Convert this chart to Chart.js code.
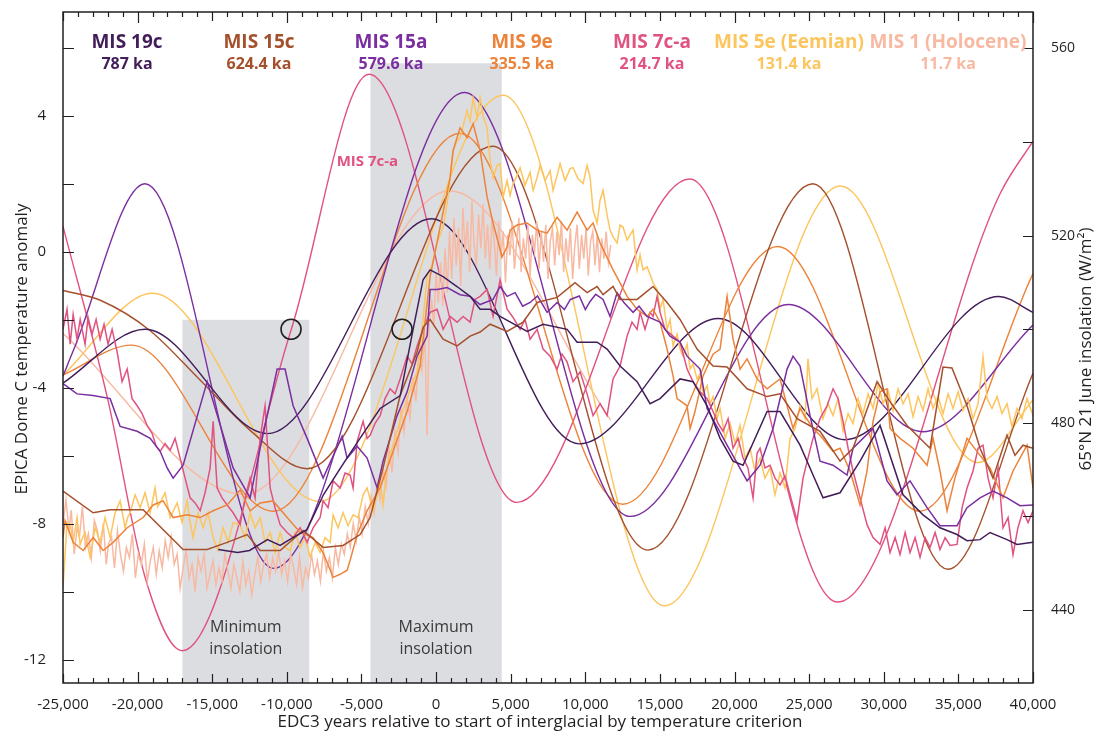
<!DOCTYPE html>
<html>
<head>
<meta charset="utf-8">
<title>Interglacial onsets vs insolation</title>
<script src="https://cdn.jsdelivr.net/npm/chart.js@4.4.1/dist/chart.umd.min.js"></script>
<style>
  html, body { margin: 0; padding: 0; background: #fff; }
  #wrap { width: 1097px; height: 738px; }
</style>
</head>
<body>
<div id="wrap"><canvas id="chart" width="1097" height="738"></canvas></div>
<script>
/* EPICA Dome C temperature vs 65N June insolation, seven interglacials
   aligned on the start of each interglacial */

// ── Axis ticks ─────────────────────────────────────────────────────────────
const xTicks     = [-25000, -20000, -15000, -10000, -5000, 0, 5000, 10000,
                    15000, 20000, 25000, 30000, 35000, 40000];
const tempTicks  = [-12, -8, -4, 0, 4];
const insolTicks = [440, 480, 520, 560];

// ── Interglacial names, ages, colours ─────────────────────────────────────
const misNames  = ['MIS 19c', 'MIS 15c', 'MIS 15a', 'MIS 9e', 'MIS 7c-a',
                   'MIS 5e (Eemian)', 'MIS 1 (Holocene)'];
const misAges   = ['787 ka', '624.4 ka', '579.6 ka', '335.5 ka', '214.7 ka',
                   '131.4 ka', '11.7 ka'];
const misColors = ['#421d5a', '#a5502c', '#7a2e9f', '#ec833a', '#e0527f',
                   '#fcc55e', '#f8b9a3'];

// ── Shaded insolation windows: [from, to, top (temperature units)] ───────
const bandSpans  = [[-17000, -8500, -2.0], [-4400, 4400, 5.55]];
const bandLabels = [['Minimum', 'insolation'], ['Maximum', 'insolation']];
const circleMarks = [[-9720, 500], [-2280, 500]];
const inlineLabel = ['MIS 7c-a', -4600, 2.65];

// ── 65N 21 June insolation, W/m2  [years, value] ──────────────────────────
const insol19c = [[-25000,488.5],[-19500,500],[-11300,477.7],[-300,523.6],[9600,475.5],
  [18900,502.3],[27400,476.4],[37700,507],[40000,503.6]];
const insol15c = [[-25000,508.3],[-22500,506.2],[-19200,499.8],[-15800,489.1],[-12500,478.5],
  [-8650,470.2],[3800,539.1],[14200,452.8],[25250,531.1],[34300,448.7],[40000,490.6]];
const insol15a = [[-25000,490],[-24300,495.5],[-19500,531.1],[-10900,448.9],[1900,550.6],
  [13000,460],[23600,505.3],[32600,478.1],[40000,500.9]];
const insol9e  = [[-25000,490.2],[-20400,496.6],[-10900,461.1],[1600,541.9],[12500,462.6],
  [22900,517.7],[32400,461.1],[40000,511.9]];
const insol7ca = [[-25000,522],[-22000,485],[-19500,447],[-17000,431.3],[-9700,500],
  [-4500,554.5],[5400,463],[17000,532.1],[26900,441.7],[37800,529],[40000,540.2]];
const insol5e  = [[-25000,490.2],[-19000,507.7],[-7800,463.2],[4500,550],[15300,440.9],
  [27100,530.6],[36300,471.5],[40000,484.9]];
const insol1   = [[-25000,499.1],[-12800,464.7],[900,529.6],[11700,480.6]];

// ── EPICA Dome C temperature anomaly  [years, value] ─────────────────────
const temp19c = [[-14600,-8.76],[-13300,-8.85],[-12500,-8.79],[-11300,-8.47],[-10450,-8.64],
  [-9600,-8.41],[-8650,-8.18],[-7550,-7.15],[-6400,-6.36],[-5100,-5.49],[-3750,-4.61],
  [-2400,-4.23],[-1540,-2.28],[-870,-0.82],[-400,-0.53],[470,-0.73],[1400,-1.02],[2280,-1.31],
  [2950,-1.69],[3620,-1.69],[4290,-1.90],[6100,-2.34],[7170,-2.13],[8780,-2.28],[9450,-2.66],
  [10790,-2.66],[11460,-2.86],[12330,-3.36],[13470,-3.82],[14340,-4.47],[15010,-4.32],
  [16350,-3.74],[17220,-3.82],[18160,-4.53],[19030,-5.49],[19900,-6.16],[20570,-6.28],
  [22180,-4.70],[23050,-4.70],[24390,-5.69],[25260,-6.57],[25930,-7.24],[27070,-7.09],
  [28410,-6.16],[29750,-5.11],[31290,-7.15],[32630,-7.74],[33770,-8.12],[34910,-8.32],
  [35580,-8.50],[36450,-8.47],[37120,-8.26],[38260,-8.47],[38930,-8.61],[40000,-8.55]];

const temp15c = [[-25000,-7.04],[-22980,-7.68],[-21840,-7.59],[-19630,-7.59],[-16950,-8.76],
  [-15340,-8.76],[-14000,-8.55],[-12660,-8.32],[-11790,-8.79],[-10450,-8.79],[-8910,-8.20],
  [-7570,-8.70],[-6230,-8.64],[-5090,-8.32],[-4420,-7.82],[-3550,-6.36],[-2410,-4.23],
  [-1270,-2.95],[-870,-2.22],[-400,-1.99],[470,-2.57],[1410,-2.77],[2280,-2.48],[2950,-2.36],
  [3620,-2.13],[4760,-2.34],[5830,-2.07],[6770,-1.49],[8110,-1.34],[9310,-0.91],[10120,-1.20],
  [10790,-1.02],[11190,-1.26],[11860,-1.02],[12330,-1.40],[13470,-1.40],[14540,-1.02],
  [15480,-1.49],[16350,-1.99],[17490,-2.86],[18560,-3.36],[19500,-3.39],[20840,-4.03],
  [22180,-4.26],[23050,-4.18],[24190,-4.91],[25730,-5.28],[27070,-6.16],[27940,-5.78],
  [29550,-3.82],[30420,-4.41],[31560,-5.11],[33100,-5.78],[33970,-3.39],[34570,-3.42],
  [35580,-4.53],[36450,-5.78],[37320,-6.66],[38260,-5.40],[38790,-5.99],[39330,-5.69],
  [40000,-5.78]];

const temp15a = [[-25000,-3.88],[-24060,-4.18],[-22980,-4.23],[-21840,-4.32],[-21170,-5.14],
  [-20030,-5.28],[-19160,-5.49],[-18490,-5.87],[-18020,-6.36],[-17620,-6.66],[-16950,-6.28],
  [-15340,-3.82],[-13600,-6.36],[-12460,-7.24],[-11790,-5.78],[-10650,-3.45],[-10120,-3.45],
  [-9580,-4.53],[-8640,-5.49],[-7570,-6.66],[-6300,-5.43],[-5960,-6.07],[-5290,-5.72],
  [-4620,-6.07],[-3950,-6.95],[-3550,-6.16],[-2610,-4.82],[-1940,-4.12],[-1270,-3.07],
  [-600,-2.48],[-400,-1.11],[70,-1.11],[740,-1.05],[1610,-1.26],[2280,-1.31],[2950,-1.55],
  [3820,-1.40],[4290,-1.02],[4760,-1.31],[5300,-1.20],[5800,-1.60],[6300,-1.49],[6800,-1.30],
  [7440,-1.78],[8110,-1.49],[8600,-1.70],[9000,-1.40],[9600,-1.30],[10000,-1.70],
  [10320,-1.46],[10700,-1.25],[11190,-1.40],[11660,-1.90],[12130,-1.20],[12600,-1.50],
  [13200,-1.78],[13600,-1.60],[14140,-1.90],[15010,-2.07],[15680,-2.48],[16350,-2.66],
  [16820,-3.07],[17690,-3.45],[18160,-4.61],[19500,-5.69],[20840,-6.74],[21710,-6.28],
  [22580,-5.20],[23520,-3.45],[23920,-3.07],[24390,-3.36],[25060,-4.82],[25730,-6.16],
  [26600,-6.28],[27540,-6.57],[27940,-5.78],[29280,-5.20],[30220,-6.74],[30890,-7.15],
  [31760,-6.74],[32900,-7.53],[33770,-8.06],[34910,-8.06],[35580,-7.53],[36450,-7.24],
  [37320,-7.04],[38260,-7.24],[39130,-7.47],[40000,-7.45]];

const temp9e = [[-25000,-8.41],[-24860,-7.91],[-24320,-8.55],[-23650,-8.79],[-22980,-8.41],
  [-22310,-8.79],[-21640,-8.55],[-20700,-8.12],[-19630,-7.82],[-18960,-7.45],[-18290,-7.33],
  [-17620,-7.82],[-16680,-7.74],[-15810,-7.82],[-14940,-7.62],[-14000,-7.45],[-13130,-7.01],
  [-12460,-7.62],[-11790,-7.39],[-10920,-7.33],[-9980,-7.82],[-9110,-8.26],[-8240,-8.41],
  [-7570,-8.85],[-6900,-9.58],[-6430,-9.49],[-5960,-9.37],[-5760,-9.08],[-5290,-8.32],
  [-4620,-7.62],[-3750,-6.95],[-2880,-5.87],[-1940,-4.70],[-1070,-3.36],[-400,-0.73],
  [270,0.73],[940,2.19],[1140,2.98],[1610,3.65],[2080,3.36],[2480,3.77],[2950,2.98],
  [3420,1.61],[3820,0.85],[4420,-0.15],[4760,0.15],[4960,0.64],[5430,0.79],[6100,0.85],
  [6770,0.64],[7440,0.55],[8110,1.02],[8780,0.64],[9450,1.17],[10120,0.64],[10520,0.85],
  [10990,0.26],[11860,-0.53],[12330,-0.91],[12800,-1.31],[13470,-1.69],[14140,-1.90],
  [14540,-1.69],[15010,-2.07],[15480,-2.86],[15880,-3.65],[16150,-4.32],[16820,-4.53],
  [17020,-5.20],[17350,-4.70],[17890,-3.65],[18560,-3.01],[19030,-2.86],[19500,-1.31],
  [19900,-2.57],[20370,-3.45],[20840,-3.15],[21510,-3.74],[22180,-4.03],[23050,-3.74],
  [23920,-5.20],[24390,-4.61],[25260,-5.20],[25730,-5.40],[26600,-5.87],[27070,-5.78],
  [27740,-6.45],[28410,-7.45],[28880,-6.45],[29280,-4.99],[29750,-4.12],[30220,-4.03],
  [30420,-5.20],[31090,-5.49],[31960,-5.78],[32900,-6.28],[33300,-5.49],[33770,-6.45],
  [34240,-7.62],[34770,-6.66],[35580,-5.49],[36450,-5.99],[37120,-6.36],[37990,-7.24],
  [38660,-6.45],[39600,-5.69],[40000,-6.95]];

const temp7ca = [[-25000,-2.28],[-24730,-1.69],[-24520,-2.72],[-24320,-1.84],[-24060,-2.57],
  [-23850,-1.99],[-23520,-2.72],[-23320,-1.93],[-23050,-2.42],[-22780,-1.99],[-22510,-2.57],
  [-22250,-2.13],[-21980,-2.72],[-21710,-2.28],[-21370,-2.95],[-21040,-3.82],[-20700,-3.45],
  [-20370,-4.32],[-20030,-4.53],[-19700,-4.76],[-19360,-5.11],[-19030,-5.34],[-18760,-5.72],
  [-18490,-5.87],[-18160,-5.64],[-17820,-5.84],[-17490,-5.49],[-17150,-6.07],[-16820,-6.66],
  [-16480,-7.24],[-16150,-7.39],[-15810,-7.62],[-15480,-7.09],[-15140,-6.36],[-14940,-4.99],
  [-14670,-6.95],[-14340,-7.24],[-14000,-7.45],[-13600,-7.68],[-13130,-8.03],[-12800,-7.24],
  [-12460,-6.66],[-12130,-7.24],[-11790,-5.49],[-11460,-4.53],[-11120,-6.95],[-10790,-7.53],
  [-10450,-8.03],[-9980,-8.26],[-9580,-8.41],[-9110,-8.12],[-8640,-8.55],[-8240,-8.12],
  [-7770,-7.82],[-7570,-7.33],[-7240,-7.53],[-6900,-6.74],[-6430,-6.95],[-6100,-6.51],
  [-5760,-6.57],[-5560,-6.95],[-5290,-5.58],[-4890,-4.99],[-4620,-5.49],[-4420,-5.40],
  [-4090,-5.05],[-3750,-4.82],[-3420,-4.32],[-3080,-4.03],[-2750,-4.18],[-2410,-3.74],
  [-1940,-3.07],[-1610,-3.30],[-1270,-2.77],[-870,-2.28],[-400,-1.78],[70,-1.69],[470,-2.28],
  [940,-1.90],[1410,-2.07],[1810,-1.90],[2280,-2.07],[2610,-1.40],[2950,-1.31],[3420,-1.11],
  [3820,-1.90],[4290,-0.82],[4760,-1.69],[5160,-1.93],[5630,-2.28],[5960,-1.99],[6300,-2.57],
  [6770,-2.28],[7170,-2.86],[7640,-3.07],[8110,-3.45],[8440,-3.01],[8780,-3.24],[9180,-3.82],
  [9650,-3.53],[10120,-4.18],[10520,-4.82],[10990,-4.47],[11460,-4.82],[11860,-3.74],
  [12330,-3.36],[12800,-2.48],[13130,-2.07],[13470,-2.28],[13670,-1.78],[14000,-2.28],
  [14340,-1.78],[14540,-1.90],[14810,-1.31],[15010,-1.78],[15340,-2.28],[15880,-2.48],
  [16350,-2.66],[16820,-3.45],[17220,-3.82],[17690,-4.12],[18160,-4.32],[18560,-4.70],
  [18900,-5.05],[19230,-5.28],[19570,-4.91],[19900,-5.78],[20240,-5.49],[20570,-6.07],
  [20900,-6.36],[21240,-7.24],[21510,-5.93],[21710,-5.78],[22040,-6.36],[22380,-6.28],
  [22710,-6.66],[23050,-6.86],[23380,-6.60],[23720,-7.15],[24190,-7.91],[24590,-6.66],
  [24920,-6.07],[25260,-5.49],[25730,-4.91],[26200,-4.53],[26600,-4.03],[26940,-4.32],
  [27270,-4.99],[27610,-5.78],[27940,-6.45],[28410,-7.24],[28880,-8.03],[29280,-8.41],
  [29750,-8.61],[30090,-8.12],[30420,-8.85],[30760,-8.41],[31090,-8.91],[31430,-8.26],
  [31760,-8.85],[32100,-8.41],[32430,-8.99],[32770,-8.41],[33100,-8.70],[33440,-8.26],
  [33770,-8.76],[34110,-8.41],[34440,-8.64],[34910,-8.61],[35250,-7.53],[35580,-6.95],
  [35980,-6.45],[36320,-5.78],[36650,-5.69],[36990,-6.66],[37320,-7.24],[37660,-6.36],
  [37990,-8.12],[38330,-7.82],[38660,-8.91],[38990,-8.12],[39330,-7.62],[39670,-7.97],
  [40000,-7.62]];

const temp5e = [[-25000,-9.87],[-24870,-8.99],[-24730,-7.97],[-24520,-8.03],[-24320,-8.55],
  [-24060,-7.82],[-23850,-8.61],[-23680,-8.40],[-23520,-8.26],[-23180,-8.99],[-22850,-8.12],
  [-22700,-8.30],[-22510,-8.55],[-22180,-7.82],[-21840,-8.41],[-21510,-7.68],[-21170,-7.33],
  [-20840,-8.12],[-20650,-7.80],[-20500,-7.68],[-20170,-7.15],[-19830,-7.53],[-19500,-7.09],
  [-19160,-7.68],[-18830,-6.95],[-18650,-7.50],[-18490,-7.39],[-18160,-7.09],[-17820,-7.82],
  [-17350,-7.39],[-17020,-7.97],[-16680,-7.33],[-16500,-7.90],[-16280,-8.41],[-15950,-7.68],
  [-15610,-8.12],[-15280,-7.68],[-14940,-8.41],[-14610,-8.79],[-14270,-8.12],[-13940,-8.55],
  [-13600,-7.97],[-13130,-8.03],[-12800,-8.41],[-12460,-7.68],[-12130,-8.12],[-11790,-7.82],
  [-11460,-8.55],[-11120,-8.26],[-10790,-8.85],[-10450,-8.26],[-10120,-8.70],[-9780,-8.79],
  [-9450,-8.26],[-9110,-8.70],[-8780,-8.41],[-8440,-8.99],[-8110,-8.55],[-7770,-8.85],
  [-7440,-8.41],[-7100,-8.55],[-6900,-7.74],[-6570,-8.12],[-6230,-7.68],[-5900,-8.06],
  [-5560,-7.74],[-5230,-7.82],[-4890,-7.15],[-4620,-6.95],[-4220,-7.62],[-3950,-7.15],
  [-3750,-6.66],[-3550,-7.45],[-3280,-6.28],[-2950,-5.78],[-2610,-5.28],[-2280,-4.76],
  [-1940,-4.32],[-1610,-3.88],[-1270,-3.53],[-940,-2.28],[-600,-0.73],[-270,-0.38],[70,0.26],
  [470,0.73],[740,1.43],[940,2.10],[1140,2.98],[1410,3.27],[1610,3.36],[1810,3.71],[2080,4.15],
  [2280,3.85],[2480,4.53],[2750,3.94],[2950,4.53],[3150,4.00],[3420,3.65],[3620,2.69],
  [3820,2.19],[4090,2.54],[4290,2.60],[4490,1.61],[4760,2.10],[4960,1.66],[5160,2.01],
  [5430,2.25],[5630,2.48],[5960,1.96],[6300,2.34],[6500,1.81],[6770,2.19],[6970,2.54],
  [7300,2.10],[7640,2.39],[7840,1.81],[8110,2.25],[8310,2.60],[8640,2.10],[8980,2.45],
  [9180,2.48],[9510,2.16],[9850,2.01],[10120,2.54],[10320,2.19],[10520,1.23],[10790,0.85],
  [10990,1.52],[11190,1.81],[11460,1.08],[11660,0.64],[11860,0.44],[12130,0.26],[12330,0.79],
  [12530,0.73],[12800,0.35],[13000,0.50],[13200,0.64],[13470,-0.53],[13670,-0.09],
  [13870,-0.53],[14140,-0.44],[14340,-0.67],[14540,-0.91],[14810,-1.11],[15010,-1.69],
  [15210,-1.40],[15480,-2.28],[15680,-1.99],[15880,-2.77],[16150,-2.42],[16350,-2.86],
  [16550,-3.07],[16820,-2.72],[17020,-3.45],[17220,-3.30],[17490,-3.74],[17690,-3.59],
  [17890,-4.18],[18160,-3.94],[18360,-4.47],[18560,-4.26],[18830,-4.91],[19030,-4.61],
  [19370,-5.49],[19700,-5.05],[20040,-5.64],[20370,-5.11],[20700,-6.07],[21040,-5.78],
  [21370,-6.45],[21710,-6.07],[22040,-6.66],[22380,-6.36],[22710,-7.15],[23050,-6.51],
  [23380,-6.95],[23720,-5.49],[24060,-5.20],[24390,-4.53],[24730,-4.91],[24920,-3.15],
  [25190,-4.32],[25530,-4.03],[25930,-4.91],[26260,-4.47],[26600,-4.82],[26940,-4.32],
  [27270,-5.28],[27610,-4.76],[27940,-5.05],[28280,-4.32],[28610,-4.76],[28950,-4.18],
  [29280,-4.61],[29620,-3.88],[29950,-4.47],[30290,-4.09],[30620,-4.67],[30960,-4.03],
  [31290,-4.47],[31630,-4.18],[31960,-4.85],[32300,-4.26],[32630,-4.67],[32970,-4.03],
  [33300,-4.61],[33640,-4.26],[33970,-4.76],[34310,-4.18],[34640,-4.61],[34980,-4.12],
  [35310,-4.67],[35650,-4.32],[35980,-4.91],[36320,-4.47],[36650,-3.09],[36920,-4.32],
  [37250,-4.61],[37590,-4.26],[37920,-4.76],[38260,-4.47],[38590,-5.14],[38930,-4.61],
  [39260,-4.91],[39600,-4.32],[40000,-4.82]];

const temp1 = [[-25000,-8.0],[-24800,-7.3],[-24600,-8.2],[-24450,-7.6],[-24250,-8.9],
  [-24050,-8.1],[-23900,-8.4],[-23700,-7.5],[-23500,-8.7],[-23300,-8.3],[-23100,-9.0],
  [-22900,-7.9],[-22700,-8.2],[-22500,-8.8],[-22300,-8.0],[-22100,-9.2],[-21950,-8.6],
  [-21750,-8.4],[-21550,-9.3],[-21350,-8.2],[-21150,-8.9],[-20950,-9.4],[-20750,-8.7],
  [-20550,-9.0],[-20350,-8.3],[-20150,-9.6],[-19950,-8.9],[-19750,-9.2],[-19550,-8.6],
  [-19350,-9.7],[-19150,-9.1],[-18950,-8.7],[-18750,-9.5],[-18550,-8.8],[-18350,-9.3],
  [-18150,-8.5],[-17950,-9.0],[-17750,-8.4],[-17550,-9.2],[-17350,-8.9],[-17150,-9.9],
  [-16950,-9.3],[-16750,-8.8],[-16550,-9.6],[-16350,-9.2],[-16150,-10.0],[-15950,-9.0],
  [-15750,-9.4],[-15550,-8.9],[-15350,-9.9],[-15150,-9.5],[-14950,-9.1],[-14750,-9.8],
  [-14550,-9.3],[-14350,-9.7],[-14150,-8.9],[-13950,-9.4],[-13750,-9.9],[-13550,-9.2],
  [-13350,-9.6],[-13150,-10.0],[-12950,-9.1],[-12750,-9.8],[-12550,-9.4],[-12350,-10.1],
  [-12150,-9.5],[-11950,-9.0],[-11750,-9.7],[-11550,-9.2],[-11350,-8.9],[-11150,-9.6],
  [-10950,-9.0],[-10750,-9.4],[-10550,-8.8],[-10350,-9.5],[-10150,-9.1],[-9950,-9.7],
  [-9750,-8.9],[-9550,-9.3],[-9350,-9.8],[-9150,-9.0],[-8950,-9.9],[-8750,-9.3],[-8550,-9.6],
  [-8350,-8.9],[-8150,-9.5],[-7950,-9.1],[-7750,-9.7],[-7550,-8.8],[-7350,-9.4],[-7150,-9.0],
  [-6950,-9.6],[-6750,-8.7],[-6550,-9.2],[-6350,-8.6],[-6150,-8.9],[-5950,-8.3],[-5750,-8.7],
  [-5550,-8.0],[-5350,-8.5],[-5150,-7.8],[-4950,-8.3],[-4750,-7.5],[-4550,-8.0],[-4350,-7.2],
  [-4150,-7.7],[-3950,-6.8],[-3750,-7.3],[-3550,-6.4],[-3350,-6.9],[-3150,-5.8],[-2950,-6.5],
  [-2750,-5.3],[-2550,-5.9],[-2350,-4.6],[-2150,-5.3],[-1950,-4.3],[-1750,-4.9],[-1550,-3.7],
  [-1350,-4.4],[-1150,-2.9],[-950,-3.5],[-750,-2.4],[-600,-5.4],[-450,-2.0],[-300,-1.4],
  [-150,-2.2],[0,-0.6],[150,-1.5],[300,-0.3],[450,-1.6],[600,0.1],[750,-1.2],[900,0.6],
  [1050,-0.8],[1200,1.0],[1350,-0.4],[1500,0.7],[1650,-1.0],[1800,1.3],[1950,0.0],[2100,0.9],
  [2250,-0.6],[2400,1.5],[2550,0.2],[2700,-0.4],[2850,1.1],[3000,0.1],[3150,1.4],[3300,-0.2],
  [3450,0.8],[3600,-0.5],[3750,1.0],[3900,0.3],[4050,-0.7],[4200,0.9],[4350,-0.2],[4500,0.6],
  [4650,-0.9],[4800,0.5],[4950,-0.1],[5100,0.9],[5250,-0.5],[5400,0.3],[5550,1.0],[5700,-0.6],
  [5850,0.4],[6000,-0.2],[6150,0.8],[6300,-0.7],[6450,0.5],[6600,0.0],[6750,0.9],[6900,-0.5],
  [7050,0.6],[7200,-0.3],[7350,0.8],[7500,-0.8],[7650,0.3],[7800,0.7],[7950,-0.4],[8100,0.6],
  [8250,-0.1],[8400,0.9],[8550,-0.6],[8700,0.4],[8850,-0.3],[9000,0.7],[9150,-0.8],[9300,0.2],
  [9450,0.8],[9600,-0.5],[9750,0.5],[9900,-0.2],[10050,0.7],[10200,-0.7],[10350,0.3],
  [10500,0.6],[10650,-0.4],[10800,0.5],[10950,-0.6],[11100,0.4],[11250,-0.2],[11400,0.6],
  [11550,-0.3],[11700,0.2]];

const insolSeries = [insol19c, insol15c, insol15a, insol9e, insol7ca, insol5e, insol1];
const tempSeries  = [temp19c, temp15c, temp15a, temp9e, temp7ca, temp5e, temp1];

// ── helpers ────────────────────────────────────────────────────────────────
const INK  = '#231f20';
const FONT = "'Open Sans', 'Noto Sans', sans-serif";
const toXY = arr => arr.map(([x, y]) => ({ x, y }));

// header layout (pixels)
const headerCenters = [127, 259, 391, 522, 652, 789, 948];

// ── Decorations: bands, frame, inward ticks, texts ─────────────────────────
const decor = {
  id: 'decor',
  beforeDatasetsDraw(chart) {
    const { ctx, chartArea: a, scales: { x, y } } = chart;
    ctx.save();
    ctx.fillStyle = '#dcdde1';
    bandSpans.forEach(([from, to, top]) => {
      const x0 = x.getPixelForValue(from), x1 = x.getPixelForValue(to);
      const y0 = y.getPixelForValue(top);
      ctx.fillRect(x0, y0, x1 - x0, a.bottom - y0);
    });
    ctx.fillStyle = '#3a3a3a';
    ctx.font = `16px ${FONT}`;
    ctx.textAlign = 'center'; ctx.textBaseline = 'middle';
    bandSpans.forEach(([from, to], i) => {
      const cx = (x.getPixelForValue(from) + x.getPixelForValue(to)) / 2;
      ctx.fillText(bandLabels[i][0], cx, a.bottom - 56);
      ctx.fillText(bandLabels[i][1], cx, a.bottom - 34);
    });
    ctx.restore();
  },
  afterDraw(chart) {
    const { ctx, chartArea: a, scales: { x, y, y2 } } = chart;
    ctx.save();

    // frame
    ctx.strokeStyle = INK; ctx.lineWidth = 1.5;
    ctx.strokeRect(a.left, a.top, a.right - a.left, a.bottom - a.top);

    // inward ticks
    ctx.lineWidth = 1.2;
    ctx.beginPath();
    for (let t = x.min; t <= x.max; t += 1000) {
      const px = Math.round(x.getPixelForValue(t)) + 0.5;
      const len = t % 10000 === 0 ? 11 : t % 5000 === 0 ? 9 : 5;
      ctx.moveTo(px, a.bottom); ctx.lineTo(px, a.bottom - len);
      ctx.moveTo(px, a.top);    ctx.lineTo(px, a.top + len);
    }
    for (let v = -12; v <= 6; v += 2) {
      const py = Math.round(y.getPixelForValue(v)) + 0.5;
      ctx.moveTo(a.left, py); ctx.lineTo(a.left + 11, py);
    }
    for (let v = 440; v <= 560; v += 20) {
      const py = Math.round(y2.getPixelForValue(v)) + 0.5;
      ctx.moveTo(a.right, py); ctx.lineTo(a.right - 10, py);
    }
    ctx.stroke();

    // label next to the 7c-a insolation curve
    ctx.font = `bold 15px ${FONT}`;
    ctx.fillStyle = misColors[4];
    ctx.textAlign = 'center'; ctx.textBaseline = 'middle';
    ctx.fillText(inlineLabel[0], x.getPixelForValue(inlineLabel[1]),
                 y.getPixelForValue(inlineLabel[2]));

    // interglacial headers
    misNames.forEach((name, i) => {
      ctx.fillStyle = misColors[i];
      ctx.font = `bold 19px ${FONT}`;
      ctx.fillText(name, headerCenters[i], 43);
      ctx.font = `bold 16px ${FONT}`;
      ctx.fillText(misAges[i], headerCenters[i], 64);
    });

    // axis titles
    ctx.fillStyle = INK;
    ctx.font = `17px ${FONT}`;
    ctx.fillText('EDC3 years relative to start of interglacial by temperature criterion', 540, 722);
    ctx.save();
    ctx.translate(22, 349); ctx.rotate(-Math.PI / 2);
    ctx.fillText('EPICA Dome C temperature anomaly', 0, 0);
    ctx.restore();
    ctx.save();
    ctx.translate(1086, 349); ctx.rotate(-Math.PI / 2);
    ctx.fillText('65°N 21 June insolation (W/m²)', 0, 0);
    ctx.restore();

    ctx.restore();
  }
};

// ── Datasets ───────────────────────────────────────────────────────────────
const datasets = [];
tempSeries.forEach((d, i) => datasets.push({
  data: toXY(d), yAxisID: 'y', order: 1,
  borderColor: misColors[i], borderWidth: 1.5,
  pointRadius: 0, tension: 0, fill: false,
}));
insolSeries.forEach((d, i) => datasets.push({
  data: toXY(d), yAxisID: 'y2', order: 2,
  borderColor: misColors[i], borderWidth: 1.4,
  pointRadius: 0, cubicInterpolationMode: 'monotone', fill: false,
}));
datasets.push({
  data: toXY(circleMarks), yAxisID: 'y2', order: 0,
  showLine: false, pointRadius: 10, pointBorderWidth: 1.6,
  pointBorderColor: INK, pointBackgroundColor: 'rgba(0,0,0,0)',
});

Chart.defaults.font.family = FONT;
Chart.defaults.font.size   = 15;
Chart.defaults.color       = INK;

// fixed box sizes so the plot area sits exactly where the reference has it
const noPadV = (s, w) => { s.width = w; s.paddingTop = 0; s.paddingBottom = 0; };
const noPadH = (s, h) => { s.height = h; s.paddingLeft = 0; s.paddingRight = 0; };

new Chart(document.getElementById('chart'), {
  type: 'line',
  data: { datasets },
  options: {
    responsive: false, animation: false, devicePixelRatio: 1,
    layout: { padding: { top: 12, left: 0, right: 0, bottom: 0 } },
    plugins: { legend: { display: false }, tooltip: { enabled: false } },
    scales: {
      x: {
        type: 'linear', min: -25000, max: 40000,
        grid: { display: false }, border: { display: false },
        afterBuildTicks: s => { s.ticks = xTicks.map(v => ({ value: v })); },
        afterFit: s => noPadH(s, 55),
        ticks: { autoSkip: false, maxRotation: 0, padding: 5,
                 callback: v => v.toLocaleString('en-US') },
      },
      y: {
        position: 'left', min: -12.69, max: 7.06,
        grid: { display: false }, border: { display: false },
        afterBuildTicks: s => { s.ticks = tempTicks.map(v => ({ value: v })); },
        afterFit: s => noPadV(s, 63),
        ticks: { padding: 9 },
      },
      y2: {
        position: 'right', min: 424.4, max: 567.8,
        grid: { display: false }, border: { display: false },
        afterBuildTicks: s => { s.ticks = insolTicks.map(v => ({ value: v })); },
        afterFit: s => noPadV(s, 64),
        ticks: { padding: 10, font: { size: 14 } },
      },
    },
  },
  plugins: [decor],
});
</script>
</body>
</html>
